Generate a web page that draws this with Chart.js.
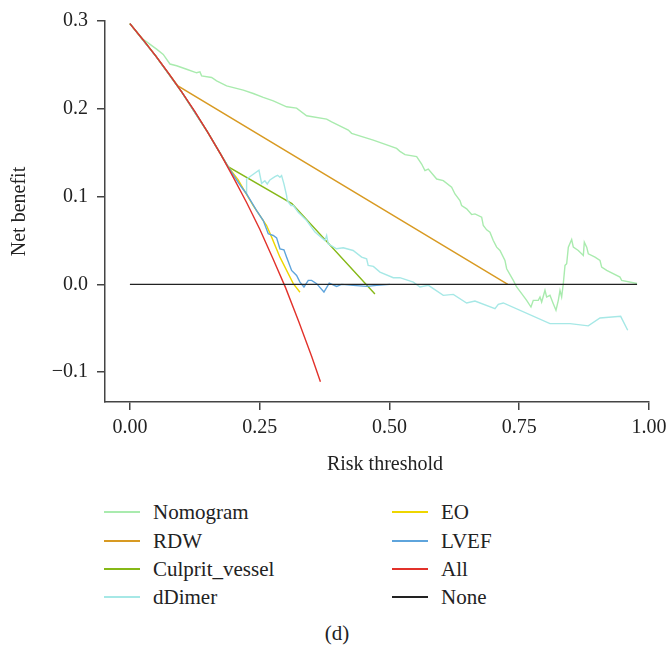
<!DOCTYPE html>
<html>
<head>
<meta charset="utf-8">
<script src="https://cdn.jsdelivr.net/npm/chart.js@4.4.0/dist/chart.umd.min.js"></script>
<style>
  body { margin: 0; background: #fff; }
  #wrap { position: relative; width: 667px; height: 646px; font-family: "Liberation Serif", "DejaVu Serif", serif; color: #222; }
  #chart { position: absolute; left: 0; top: 0; }
  .legend-item { position: absolute; height: 24px; line-height: 24px; font-size: 21px; white-space: nowrap; }
  .legend-line { position: absolute; left: 0; top: 11px; width: 36px; height: 0; border-top: 2px solid; }
  .legend-text { position: absolute; left: 49px; top: 0; }
  #caption { position: absolute; top: 620px; left: 0; width: 674px; text-align: center; font-size: 21px; line-height: 26px; }
</style>
</head>
<body>
<div id="wrap">
  <canvas id="chart" width="667" height="480"></canvas>
  <div id="legend"></div>
  <div id="caption">(d)</div>
</div>
<script>
// ==================== Data ====================
// each point = [risk threshold, net benefit]
const nomogram = [[0,0.297],[0.0257,0.279],[0.0514,0.268],[0.0642,0.262],[0.0771,0.251],[0.090,0.249],
  [0.1092,0.245],[0.1285,0.241],[0.1349,0.242],[0.1381,0.2375],[0.1574,0.2356],[0.167,0.2318],[0.1863,0.2261],
  [0.2184,0.2212],[0.2376,0.2174],[0.2569,0.2129],[0.2762,0.2091],[0.3019,0.2023],[0.3211,0.2008],[0.3404,0.192],
  [0.379,0.1883],[0.3886,0.1852],[0.4207,0.1758],[0.4271,0.172],[0.4688,0.1644],[0.5138,0.1549],[0.5202,0.1515],
  [0.5299,0.1477],[0.5524,0.1455],[0.562,0.1371],[0.5684,0.1295],[0.5748,0.1314],[0.591,0.12],[0.6037,0.1182],
  [0.6198,0.1106],[0.6262,0.103],[0.6358,0.0955],[0.639,0.0898],[0.6487,0.086],[0.6583,0.0795],[0.6647,0.0803],
  [0.6776,0.0765],[0.6808,0.067],[0.6872,0.0621],[0.6936,0.0595],[0.70,0.05],[0.7065,0.0424],[0.7129,0.0386],
  [0.7225,0.0273],[0.7258,0.0178],[0.7386,0.0045],[0.745,-0.003],[0.7547,-0.0106],[0.7643,-0.0182],[0.7726,-0.0258],
  [0.7771,-0.0182],[0.7867,-0.0182],[0.79,-0.0144],[0.7932,-0.0201],[0.7996,-0.0068],[0.8028,-0.0144],[0.8092,-0.0125],
  [0.8156,-0.022],[0.8208,-0.0295],[0.8253,-0.0182],[0.8285,-0.0068],[0.8317,-0.0144],[0.8349,0.0008],[0.8382,0.0216],
  [0.8414,0.0235],[0.8446,0.0424],[0.851,0.0511],[0.8542,0.0424],[0.8638,0.0386],[0.8735,0.033],[0.8754,0.0481],
  [0.88,0.0424],[0.8831,0.0348],[0.896,0.031],[0.9056,0.0273],[0.9088,0.0197],[0.9185,0.0159],[0.9441,0.0083],
  [0.9473,0.0045],[0.977,0.001]];

const rdw = [[0,0.297],[0.05,0.260],[0.0925,0.226],[0.728,0]];

const culpritVessel = [[0,0.297],[0.05,0.260],[0.1,0.219],[0.15,0.173],[0.189,0.134],[0.312,0.092],[0.472,-0.011]];

const dDimer = [[0,0.297],[0.05,0.260],[0.1,0.219],[0.15,0.173],[0.189,0.134],[0.2023,0.122],[0.2248,0.103],
  [0.2248,0.120],[0.2486,0.130],[0.2537,0.115],[0.260,0.118],[0.2646,0.1144],[0.2697,0.119],[0.2794,0.1227],
  [0.2845,0.1242],[0.289,0.122],[0.2922,0.1239],[0.2967,0.1144],[0.3019,0.101],[0.3031,0.0955],[0.3102,0.0898],
  [0.3147,0.0898],[0.3243,0.0822],[0.3404,0.0727],[0.3565,0.0595],[0.3757,0.05],[0.379,0.0557],[0.382,0.0462],
  [0.398,0.0405],[0.411,0.0417],[0.430,0.0386],[0.4464,0.031],[0.456,0.029],[0.459,0.0216],[0.469,0.0205],
  [0.4817,0.014],[0.5074,0.0076],[0.520,0.0076],[0.546,0.0026],[0.5588,-0.003],[0.575,-0.0011],[0.6037,-0.0125],
  [0.623,-0.0114],[0.6487,-0.0212],[0.6647,-0.019],[0.7033,-0.0277],[0.7097,-0.0227],[0.7193,-0.0212],
  [0.8092,-0.0447],[0.8478,-0.0447],[0.883,-0.0473],[0.9056,-0.0383],[0.9454,-0.0364],[0.959,-0.0523]];

const eo = [[0,0.297],[0.05,0.260],[0.1,0.219],[0.15,0.173],[0.189,0.134],[0.2087,0.119],[0.2184,0.1087],
  [0.2376,0.0898],[0.2633,0.067],[0.273,0.0538],[0.289,0.031],[0.3147,0.0008],[0.3276,-0.009]];

const lvef = [[0,0.297],[0.05,0.260],[0.1,0.219],[0.15,0.173],[0.189,0.134],[0.2023,0.122],[0.2152,0.1106],
  [0.2248,0.1031],[0.2441,0.0841],[0.2569,0.0727],[0.2665,0.0576],[0.2762,0.0557],[0.2826,0.053],[0.289,0.0405],
  [0.2967,0.0394],[0.3019,0.031],[0.3115,0.0159],[0.3211,0.0102],[0.3276,0.0026],[0.3353,-0.003],[0.3436,0.0045],
  [0.35,0.0045],[0.3597,0.0008],[0.3738,-0.0087],[0.384,0.0015],[0.3982,-0.0023],[0.4079,0],[0.4303,-0.0011],
  [0.456,-0.0023],[0.4753,-0.0011],[0.501,0]];

const treatAll = [[0,0.297],[0.025,0.279],[0.05,0.260],[0.075,0.240],[0.1,0.219],[0.125,0.197],[0.15,0.173],
  [0.175,0.148],[0.2,0.121],[0.225,0.093],[0.25,0.063],[0.275,0.030],[0.3,-0.004],[0.325,-0.042],[0.35,-0.082],
  [0.367,-0.111]];

const treatNone = [[0,0],[0.977,0]];

const seriesNames = ['Nomogram', 'RDW', 'Culprit_vessel', 'dDimer', 'EO', 'LVEF', 'All', 'None'];
const seriesData = [nomogram, rdw, culpritVessel, dDimer, eo, lvef, treatAll, treatNone];
const seriesColors = ['#A9EBAE', '#D89A22', '#86B817', '#A6E8E6', '#EED600', '#5EA4DC', '#E2312A', '#222222'];
const drawOrder = [7, 6, 5, 4, 3, 2, 1, 0]; // smaller = drawn on top

const xTicks = [0, 0.25, 0.5, 0.75, 1];
const yTicks = [-0.1, 0, 0.1, 0.2, 0.3];

// ==================== Chart ====================
const axisColor = '#444';
const fontFamily = '"Liberation Serif", "DejaVu Serif", serif';
const tickFont = { family: fontFamily, size: 20 };

// x axis title drawn by hand so it can sit where the original has it
const xTitlePlugin = {
    id: 'xTitle',
    afterDraw(chart) {
        const ctx = chart.ctx;
        ctx.save();
        ctx.font = '20px ' + fontFamily;
        ctx.fillStyle = '#222';
        ctx.textAlign = 'center';
        ctx.textBaseline = 'middle';
        ctx.fillText('Risk threshold', 385, 465);
        ctx.restore();
    }
};

const datasets = seriesNames.map((name, i) => ({
    label: name,
    data: seriesData[i].map(p => ({ x: p[0], y: p[1] })),
    borderColor: seriesColors[i],
    borderWidth: 1.4,
    pointRadius: 0,
    fill: false,
    tension: 0,
    order: drawOrder[i]
}));

new Chart(document.getElementById('chart'), {
    type: 'line',
    data: { datasets: datasets },
    plugins: [xTitlePlugin],
    options: {
        responsive: false,
        animation: false,
        devicePixelRatio: 1,
        layout: { padding: { top: 20, right: 18, left: 0, bottom: 0 } },
        plugins: { legend: { display: false }, tooltip: { enabled: false } },
        scales: {
            x: {
                type: 'linear',
                min: -0.048,
                max: 1.0,
                afterBuildTicks: s => { s.ticks = xTicks.map(v => ({ value: v })); },
                afterFit: s => { s.height = 78; s.paddingLeft = 0; s.paddingRight = 0; },
                border: { display: true, color: axisColor, width: 1.5 },
                grid: { drawOnChartArea: false, drawTicks: true, tickLength: 8, color: axisColor, lineWidth: 1.5 },
                ticks: { color: '#222', font: tickFont, padding: 6, maxRotation: 0, callback: v => v.toFixed(2) },
                title: { display: false }
            },
            y: {
                type: 'linear',
                min: -0.134,
                max: 0.3,
                afterBuildTicks: s => { s.ticks = yTicks.map(v => ({ value: v })); },
                afterFit: s => { s.width = 105; },
                border: { display: true, color: axisColor, width: 1.5 },
                grid: { drawOnChartArea: false, drawTicks: true, tickLength: 8, color: axisColor, lineWidth: 1.5 },
                ticks: { color: '#222', font: tickFont, padding: 9, callback: v => (v < 0 ? '\u2212' + Math.abs(v).toFixed(1) : v.toFixed(1)) },
                title: { display: true, text: 'Net benefit', color: '#222', font: { family: fontFamily, size: 20, lineHeight: 1.2 }, padding: { top: 8, bottom: 0 } }
            }
        }
    }
});

// ==================== Legend (two columns, four rows) ====================
const legendEl = document.getElementById('legend');
const legendRowY = [500, 529, 557, 585];
const legendColX = [104, 392];
seriesNames.forEach((name, i) => {
    const col = Math.floor(i / 4), row = i % 4;
    const item = document.createElement('div');
    item.className = 'legend-item';
    item.style.left = legendColX[col] + 'px';
    item.style.top = legendRowY[row] + 'px';
    item.innerHTML = '<span class="legend-line" style="border-color:' + seriesColors[i] + '"></span><span class="legend-text">' + name + '</span>';
    legendEl.appendChild(item);
});
</script>
</body>
</html>
